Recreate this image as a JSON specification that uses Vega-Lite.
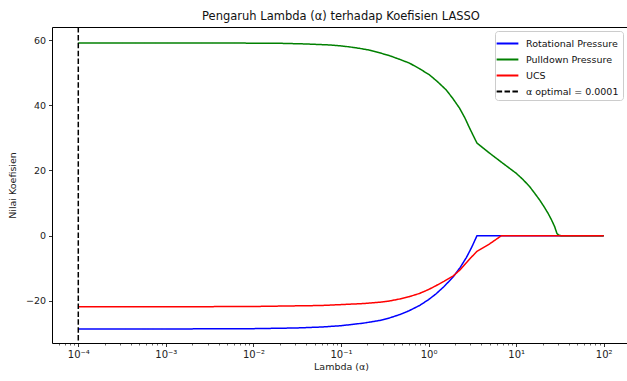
{
  "$schema": "https://vega.github.io/schema/vega-lite/v6.json",
  "autosize": "none",
  "width": 578,
  "height": 316,
  "padding": {"left": 52, "top": 27, "right": 0, "bottom": 38},
  "background": "white",
  "config": {
    "font": "DejaVu Sans",
    "view": {"stroke": "black", "strokeWidth": 1},
    "axis": {"domainColor": "black", "tickColor": "black", "labelColor": "#222", "titleColor": "#222", "labelFont": "DejaVu Sans", "titleFont": "DejaVu Sans", "grid": false}
  },
  "title": {"text": "Pengaruh Lambda (α) terhadap Koefisien LASSO", "fontSize": 11.5, "fontWeight": "normal", "color": "#111", "offset": 4, "anchor": "middle"},
  "datasets": {
    "lines": [
      {"a": 0.0001, "v": -28.6, "s": "Rotational Pressure"},
      {"a": 0.001, "v": -28.6, "s": "Rotational Pressure"},
      {"a": 0.01, "v": -28.5, "s": "Rotational Pressure"},
      {"a": 0.03, "v": -28.3, "s": "Rotational Pressure"},
      {"a": 0.06, "v": -28.0, "s": "Rotational Pressure"},
      {"a": 0.1, "v": -27.6, "s": "Rotational Pressure"},
      {"a": 0.181, "v": -26.8, "s": "Rotational Pressure"},
      {"a": 0.275, "v": -26.0, "s": "Rotational Pressure"},
      {"a": 0.36, "v": -25.2, "s": "Rotational Pressure"},
      {"a": 0.467, "v": -24.2, "s": "Rotational Pressure"},
      {"a": 0.6, "v": -23.0, "s": "Rotational Pressure"},
      {"a": 0.789, "v": -21.4, "s": "Rotational Pressure"},
      {"a": 1.0, "v": -19.6, "s": "Rotational Pressure"},
      {"a": 1.22, "v": -17.8, "s": "Rotational Pressure"},
      {"a": 1.5, "v": -15.6, "s": "Rotational Pressure"},
      {"a": 1.9, "v": -12.7, "s": "Rotational Pressure"},
      {"a": 2.3, "v": -9.7, "s": "Rotational Pressure"},
      {"a": 2.7, "v": -6.7, "s": "Rotational Pressure"},
      {"a": 3.1, "v": -3.6, "s": "Rotational Pressure"},
      {"a": 3.57, "v": 0, "s": "Rotational Pressure"},
      {"a": 10, "v": 0, "s": "Rotational Pressure"},
      {"a": 100, "v": 0, "s": "Rotational Pressure"},
      {"a": 0.0001, "v": 59.1, "s": "Pulldown Pressure"},
      {"a": 0.001, "v": 59.1, "s": "Pulldown Pressure"},
      {"a": 0.004, "v": 59.1, "s": "Pulldown Pressure"},
      {"a": 0.02, "v": 59.0, "s": "Pulldown Pressure"},
      {"a": 0.04, "v": 58.8, "s": "Pulldown Pressure"},
      {"a": 0.074, "v": 58.5, "s": "Pulldown Pressure"},
      {"a": 0.096, "v": 58.25, "s": "Pulldown Pressure"},
      {"a": 0.125, "v": 57.9, "s": "Pulldown Pressure"},
      {"a": 0.163, "v": 57.45, "s": "Pulldown Pressure"},
      {"a": 0.212, "v": 56.9, "s": "Pulldown Pressure"},
      {"a": 0.275, "v": 56.1, "s": "Pulldown Pressure"},
      {"a": 0.358, "v": 55.2, "s": "Pulldown Pressure"},
      {"a": 0.466, "v": 54.1, "s": "Pulldown Pressure"},
      {"a": 0.607, "v": 52.9, "s": "Pulldown Pressure"},
      {"a": 0.79, "v": 51.2, "s": "Pulldown Pressure"},
      {"a": 1.026, "v": 49.3, "s": "Pulldown Pressure"},
      {"a": 1.28, "v": 47.1, "s": "Pulldown Pressure"},
      {"a": 1.59, "v": 44.7, "s": "Pulldown Pressure"},
      {"a": 1.9, "v": 42.0, "s": "Pulldown Pressure"},
      {"a": 2.26, "v": 39.1, "s": "Pulldown Pressure"},
      {"a": 2.6, "v": 36.1, "s": "Pulldown Pressure"},
      {"a": 2.94, "v": 33.0, "s": "Pulldown Pressure"},
      {"a": 3.25, "v": 30.6, "s": "Pulldown Pressure"},
      {"a": 3.57, "v": 28.4, "s": "Pulldown Pressure"},
      {"a": 4.98, "v": 25.3, "s": "Pulldown Pressure"},
      {"a": 7.06, "v": 22.2, "s": "Pulldown Pressure"},
      {"a": 10.05, "v": 19.1, "s": "Pulldown Pressure"},
      {"a": 12.0, "v": 17.2, "s": "Pulldown Pressure"},
      {"a": 14.3, "v": 15.0, "s": "Pulldown Pressure"},
      {"a": 16.3, "v": 13.0, "s": "Pulldown Pressure"},
      {"a": 18.6, "v": 10.9, "s": "Pulldown Pressure"},
      {"a": 20.8, "v": 8.9, "s": "Pulldown Pressure"},
      {"a": 23.1, "v": 6.9, "s": "Pulldown Pressure"},
      {"a": 25.3, "v": 4.9, "s": "Pulldown Pressure"},
      {"a": 27.5, "v": 2.8, "s": "Pulldown Pressure"},
      {"a": 29.2, "v": 0.7, "s": "Pulldown Pressure"},
      {"a": 30.5, "v": 0.2, "s": "Pulldown Pressure"},
      {"a": 32.9, "v": 0, "s": "Pulldown Pressure"},
      {"a": 100, "v": 0, "s": "Pulldown Pressure"},
      {"a": 0.0001, "v": -21.8, "s": "UCS"},
      {"a": 0.001, "v": -21.8, "s": "UCS"},
      {"a": 0.01, "v": -21.7, "s": "UCS"},
      {"a": 0.06, "v": -21.4, "s": "UCS"},
      {"a": 0.181, "v": -20.8, "s": "UCS"},
      {"a": 0.275, "v": -20.4, "s": "UCS"},
      {"a": 0.36, "v": -20.0, "s": "UCS"},
      {"a": 0.467, "v": -19.4, "s": "UCS"},
      {"a": 0.6, "v": -18.7, "s": "UCS"},
      {"a": 0.789, "v": -17.7, "s": "UCS"},
      {"a": 1.0, "v": -16.5, "s": "UCS"},
      {"a": 1.22, "v": -15.3, "s": "UCS"},
      {"a": 1.5, "v": -14.0, "s": "UCS"},
      {"a": 1.9, "v": -12.4, "s": "UCS"},
      {"a": 2.3, "v": -10.4, "s": "UCS"},
      {"a": 2.7, "v": -8.3, "s": "UCS"},
      {"a": 3.1, "v": -6.5, "s": "UCS"},
      {"a": 3.57, "v": -4.8, "s": "UCS"},
      {"a": 4.98, "v": -2.5, "s": "UCS"},
      {"a": 6.78, "v": 0, "s": "UCS"},
      {"a": 100, "v": 0, "s": "UCS"}
    ],
    "opt": [{"a": 0.0001, "s": "α optimal = 0.0001"}]
  },
  "layer": [
    {
      "data": {"name": "lines"},
      "mark": {"type": "line", "strokeWidth": 1.5, "clip": true},
      "encoding": {
        "x": {
          "field": "a", "type": "quantitative",
          "scale": {"type": "log", "domain": [0.0000501, 199.5], "nice": false, "zero": false},
          "axis": {
            "orient": "bottom",
            "title": "Lambda (α)", "titleFontSize": 9.5, "titleFontWeight": "normal", "titlePadding": 2,
            "values": [0.0001, 0.001, 0.01, 0.1, 1, 10, 100],
            "labelExpr": "datum.value < 0.0005 ? '10⁻⁴' : datum.value < 0.005 ? '10⁻³' : datum.value < 0.05 ? '10⁻²' : datum.value < 0.5 ? '10⁻¹' : datum.value < 5 ? '10⁰' : datum.value < 50 ? '10¹' : '10²'",
            "labelFontSize": 10, "labelPadding": 3, "tickSize": 3.5, "tickWidth": 0.8, "domain": false
          }
        },
        "y": {
          "field": "v", "type": "quantitative",
          "scale": {"domain": [-32.9, 64.0], "nice": false, "zero": false},
          "axis": {
            "title": "Nilai Koefisien", "titleFontSize": 9.5, "titleFontWeight": "normal", "titlePadding": 8,
            "values": [-20, 0, 20, 40, 60], "labelFontSize": 9.5, "labelPadding": 3, "tickSize": 3.5, "tickWidth": 0.8, "domain": false
          }
        },
        "color": {
          "field": "s", "type": "nominal",
          "scale": {"domain": ["Rotational Pressure", "Pulldown Pressure", "UCS", "α optimal = 0.0001"], "range": ["#0000ff", "#008000", "#ff0000", "#000000"]},
          "legend": {
            "title": null, "orient": "none", "legendX": 443, "legendY": 4,
            "symbolType": "M-1.45,0H1.45", "symbolSize": 225, "symbolStrokeWidth": 2,
            "labelFontSize": 9.5, "labelColor": "#111", "labelFont": "DejaVu Sans",
            "padding": 4, "rowPadding": 3, "labelOffset": 10,
            "strokeColor": "#cccccc", "fillColor": "rgba(255,255,255,0.85)", "cornerRadius": 3
          }
        },
        "strokeDash": {
          "field": "s", "type": "nominal",
          "scale": {"domain": ["Rotational Pressure", "Pulldown Pressure", "UCS", "α optimal = 0.0001"], "range": [[1, 0], [1, 0], [1, 0], [5.5, 2.4]]},
          "legend": {
            "title": null, "orient": "none", "legendX": 443, "legendY": 4,
            "symbolType": "M-1.45,0H1.45", "symbolSize": 225, "symbolStrokeWidth": 2,
            "labelFontSize": 9.5, "labelColor": "#111", "labelFont": "DejaVu Sans",
            "padding": 4, "rowPadding": 3, "labelOffset": 10,
            "strokeColor": "#cccccc", "fillColor": "rgba(255,255,255,0.85)", "cornerRadius": 3
          }
        }
      }
    },
    {
      "data": {"name": "opt"},
      "mark": {"type": "rule", "strokeWidth": 1.5},
      "encoding": {
        "x": {
          "field": "a", "type": "quantitative",
          "axis": {
            "orient": "bottom", "title": null, "labels": false, "domain": false,
            "values": [0.00005, 0.00006, 0.00007, 0.00008, 0.00009, 0.0002, 0.0003, 0.0004, 0.0005, 0.0006, 0.0007, 0.0008, 0.0009, 0.002, 0.003, 0.004, 0.005, 0.006, 0.007, 0.008, 0.009, 0.02, 0.03, 0.04, 0.05, 0.06, 0.07, 0.08, 0.09, 0.2, 0.3, 0.4, 0.5, 0.6, 0.7, 0.8, 0.9, 2, 3, 4, 5, 6, 7, 8, 9, 20, 30, 40, 50, 60, 70, 80, 90, 200],
            "tickSize": 2, "tickWidth": 0.6
          }
        },
        "color": {"field": "s", "type": "nominal"},
        "strokeDash": {"field": "s", "type": "nominal"}
      }
    }
  ],
  "resolve": {"axis": {"x": "independent"}}
}
